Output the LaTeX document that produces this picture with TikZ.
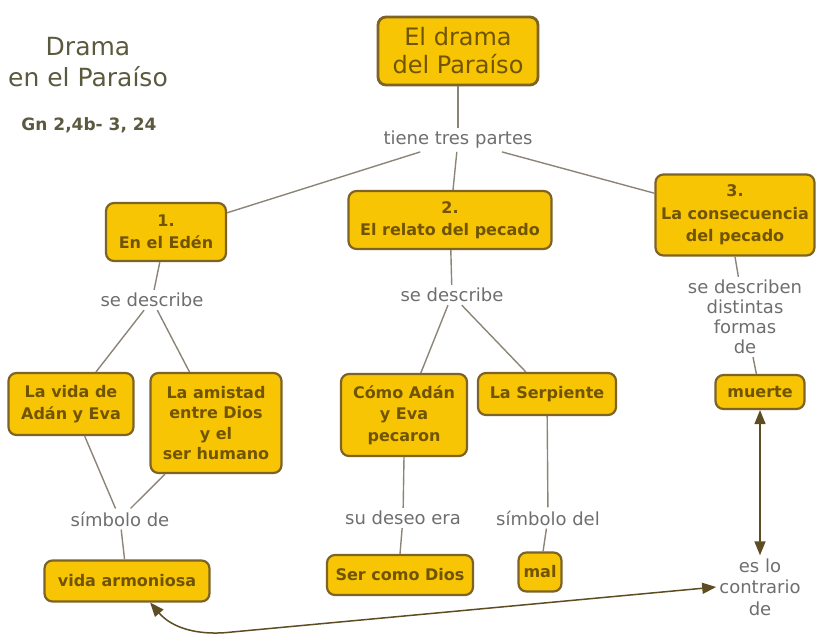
\documentclass[tikz,border=0pt]{standalone}
\usepackage{fontspec}
\setmainfont{DejaVu Sans}
\usetikzlibrary{arrows.meta}
\definecolor{boxfill}{HTML}{F8C505}
\definecolor{boxline}{HTML}{7D6325}
\definecolor{boxtext}{HTML}{705400}
\definecolor{labtext}{HTML}{6E6E6E}
\definecolor{linkcol}{HTML}{8C8577}
\definecolor{arrcol}{HTML}{5E4C22}
\definecolor{titlecol}{HTML}{5B5A3E}
\tikzset{
  cbox/.style={draw=boxline, fill=boxfill, rounded corners=8pt, line width=2.2pt,
    text=boxtext, align=center, inner sep=3pt,
    font=\bfseries\fontsize{16}{21.5}\selectfont},
  lab/.style={text=labtext, align=center, inner sep=3pt,
    font=\fontsize{18}{20}\selectfont},
  link/.style={draw=linkcol, line width=1.4pt},
  dbl/.style={draw=arrcol, line width=1.5pt,
    {Triangle[length=14pt,width=11pt]}-{Triangle[length=14pt,width=11pt]}}
}
\begin{document}
\begin{tikzpicture}[x=1pt,y=-1pt]
\useasboundingbox (0,0) rectangle (827,637);
% title
\node[text=titlecol, align=center, font=\fontsize{25}{31}\selectfont] (title) at (88,62) {Drama\\en el Paraíso};
\node[text=titlecol, font=\bfseries\fontsize{17}{18}\selectfont] (gn) at (89,125) {Gn 2,4b- 3, 24};
% boxes
\node[cbox, line width=2.8pt, minimum width=160pt, minimum height=68pt,
  font=\fontsize{24}{28}\selectfont] (top) at (458,51) {El drama\\del Paraíso};
\node[cbox, minimum width=120pt, minimum height=58pt] (n1) at (166,232) {1.\\En el Edén};
\node[cbox, minimum width=203pt, minimum height=58pt] (n2) at (450,220) {2.\\El relato del pecado};
\node[cbox, minimum width=159pt, minimum height=81pt, font=\bfseries\fontsize{16}{22.5}\selectfont] (n3) at (735,215) {3.\\La consecuencia\\del pecado};
\node[cbox, minimum width=125pt, minimum height=62pt] (vida) at (71,404) {La vida de\\Adán y Eva};
\node[cbox, minimum width=131pt, minimum height=100pt, font=\bfseries\fontsize{16}{20.6}\selectfont] (amis) at (216,423) {La amistad\\entre Dios\\y el\\ser humano};
\node[cbox, minimum width=165pt, minimum height=41pt] (varm) at (127,581) {vida armoniosa};
\node[cbox, minimum width=126pt, minimum height=82pt] (como) at (404,415) {Cómo Adán\\y Eva\\pecaron};
\node[cbox, minimum width=138pt, minimum height=42pt] (serp) at (547,394) {La Serpiente};
\node[cbox, minimum width=146pt, minimum height=40pt] (ser) at (400,575) {Ser como Dios};
\node[cbox, minimum width=43pt, minimum height=39pt] (mal) at (540,572) {mal};
\node[cbox, minimum width=89pt, minimum height=34pt] (muer) at (760,392) {muerte};
% labels
\node[lab] (tiene) at (458,140) {tiene tres partes};
\node[lab] (sd1) at (152,300) {se describe};
\node[lab] (simb) at (120,519) {símbolo de};
\node[lab] (sd2) at (452,295) {se describe};
\node[lab] (sude) at (403,518) {su deseo era};
\node[lab] (simdel) at (548,518) {símbolo del};
\node[lab] (sdd) at (745,317) {se describen\\distintas\\formas\\de};
\node[lab, font=\fontsize{18}{21.5}\selectfont] (esl) at (760,587) {es lo\\contrario\\de};
% links
\draw[link] (top) -- (tiene);
\draw[link] (tiene) -- (n1);
\draw[link] (tiene) -- (n2);
\draw[link] (tiene) -- (n3);
\draw[link] (n1) -- (sd1);
\draw[link] (sd1) -- (vida);
\draw[link] (sd1) -- (amis);
\draw[link] (vida) -- (simb);
\draw[link] (amis) -- (simb);
\draw[link] (simb) -- (varm);
\draw[link] (n2) -- (sd2);
\draw[link] (sd2) -- (como);
\draw[link] (sd2) -- (serp);
\draw[link] (como.south) -- (sude);
\draw[link] (sude) -- (ser.north);
\draw[link] (serp) -- (simdel);
\draw[link] (simdel) -- (mal);
\draw[link] (n3.south) -- (sdd);
\draw[link] (sdd) -- (muer);
\draw[dbl] (muer.south) -- (esl.north);
\coordinate (bend) at (232,632);
\draw[dbl] (varm.-43) .. controls (172,628) and (198,636) .. (bend) -- (esl.west);
\end{tikzpicture}
\end{document}
